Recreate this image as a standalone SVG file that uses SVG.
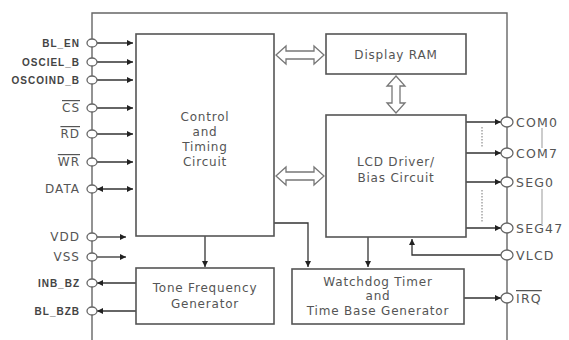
<svg xmlns="http://www.w3.org/2000/svg" width="569" height="340" viewBox="0 0 569 340">
<defs>
<marker id="ah" viewBox="0 0 10 10" refX="10" refY="5" markerWidth="7" markerHeight="6" orient="auto-start-reverse" markerUnits="userSpaceOnUse"><path d="M0,0 L10,5 L0,10 z" fill="#222"/></marker>
</defs>
<style>
.ln{stroke:#666;stroke-width:1.4;fill:none}
.th{stroke:#999;stroke-width:1;fill:none}
.dt{stroke:#777;stroke-width:1;fill:none;stroke-dasharray:1.5,1.5}
.ar{stroke:#333;stroke-width:1.3;fill:none;marker-end:url(#ah)}
.ar2{stroke:#333;stroke-width:1.3;fill:none;marker-end:url(#ah);marker-start:url(#ah)}
.box{fill:#fff;stroke:#555;stroke-width:1.6}
.pin{fill:#fff;stroke:#666;stroke-width:1.3}
.hol{fill:#fff;stroke:#777;stroke-width:1.3}
.t{font-family:"DejaVu Sans",Verdana,sans-serif;font-size:12px;letter-spacing:0.8px;fill:#555;text-anchor:middle}
.l{font-family:"DejaVu Sans",Verdana,sans-serif;font-size:12px;letter-spacing:1px;fill:#555;text-anchor:end}
.lb{font-family:"Liberation Sans",Arial,sans-serif;font-size:10px;font-weight:bold;letter-spacing:1px;fill:#444;text-anchor:end}
.r{font-family:"DejaVu Sans",Verdana,sans-serif;font-size:12.5px;letter-spacing:1.2px;fill:#555}
</style>
<g id="connectors">
<path class="ln" d="M92,340 V13 H507 V340"/>
<path class="ar" d="M97,43 H133"/>
<path class="ar" d="M97,62 H133"/>
<path class="ar" d="M97,80 H133"/>
<path class="ar" d="M97,108 H133"/>
<path class="ar" d="M97,134 H133"/>
<path class="ar" d="M97,162 H133"/>
<path class="ar2" d="M97,189 H133"/>
<path class="ar" d="M97,237 H126"/>
<path class="ar" d="M97,257 H126"/>
<path class="ar" d="M136,283 H97"/>
<path class="ar" d="M136,311 H97"/>
<path class="ar" d="M205,236 V267"/>
<path class="ar" d="M274,223 H308 V267"/>
<path class="ar" d="M368,237 V267"/>
<path class="ar" d="M501,255 H412 V239"/>
<path class="ar" d="M464,298 H501"/>
<path class="ar" d="M466,122 H501"/>
<path class="ar" d="M466,153 H501"/>
<path class="ar" d="M466,182 H501"/>
<path class="ar" d="M466,228 H501"/>
<path class="dt" d="M482,127 V147"/>
<path class="dt" d="M482,190 V222"/>
<path class="th" d="M542,128 V148"/>
<path class="th" d="M542,189 V224"/>
<polygon class="hol" points="276,55 286,46 286,51 314,51 314,46 324,55 314,64 314,59 286,59 286,64"/>
<polygon class="hol" points="276,176 286,167 286,172 314,172 314,167 324,176 314,185 314,180 286,180 286,185"/>
<polygon class="hol" points="396,76 405,86 400,86 400,103 405,103 396,113 387,103 392,103 392,86 387,86"/>
</g>
<g id="pins">
<ellipse class="pin" cx="92" cy="43" rx="5" ry="4"/>
<ellipse class="pin" cx="92" cy="62" rx="5" ry="4"/>
<ellipse class="pin" cx="92" cy="80" rx="5" ry="4"/>
<ellipse class="pin" cx="92" cy="108" rx="5" ry="4"/>
<ellipse class="pin" cx="92" cy="134" rx="5" ry="4"/>
<ellipse class="pin" cx="92" cy="162" rx="5" ry="4"/>
<ellipse class="pin" cx="92" cy="189" rx="5" ry="4"/>
<ellipse class="pin" cx="92" cy="237" rx="5" ry="4"/>
<ellipse class="pin" cx="92" cy="257" rx="5" ry="4"/>
<ellipse class="pin" cx="92" cy="283" rx="5" ry="4"/>
<ellipse class="pin" cx="92" cy="311" rx="5" ry="4"/>
<ellipse class="pin" cx="507" cy="122" rx="6" ry="5"/>
<ellipse class="pin" cx="507" cy="153" rx="6" ry="5"/>
<ellipse class="pin" cx="507" cy="182" rx="6" ry="5"/>
<ellipse class="pin" cx="507" cy="228" rx="6" ry="5"/>
<ellipse class="pin" cx="507" cy="255" rx="6" ry="5"/>
<ellipse class="pin" cx="507" cy="298" rx="6" ry="5"/>
</g>
<g id="pin-labels">
<text class="lb" x="80" y="47">BL_EN</text>
<text class="lb" x="80" y="66">OSCIEL_B</text>
<text class="lb" x="80" y="84">OSCOIND_B</text>
<text class="l" x="80" y="112" text-decoration="overline">CS</text>
<text class="l" x="80" y="138" text-decoration="overline">RD</text>
<text class="l" x="80" y="166" text-decoration="overline">WR</text>
<text class="l" x="80" y="193">DATA</text>
<text class="l" x="80" y="241">VDD</text>
<text class="l" x="80" y="261">VSS</text>
<text class="lb" x="80" y="287">INB_BZ</text>
<text class="lb" x="80" y="315">BL_BZB</text>
<text class="r" x="516" y="127">COM0</text>
<text class="r" x="516" y="158">COM7</text>
<text class="r" x="516" y="187">SEG0</text>
<text class="r" x="516" y="233">SEG47</text>
<text class="r" x="516" y="260">VLCD</text>
<text class="r" x="516" y="303" text-decoration="overline">IRQ</text>
</g>
<g id="control">
<rect class="box" x="136" y="34" width="138" height="202"/>
<text class="t" x="205" y="121">Control</text>
<text class="t" x="205" y="136">and</text>
<text class="t" x="205" y="151">Timing</text>
<text class="t" x="205" y="166">Circuit</text>
</g>
<g id="display-ram">
<rect class="box" x="326" y="34" width="140" height="40"/>
<text class="t" x="396" y="59">Display RAM</text>
</g>
<g id="lcd-driver">
<rect class="box" x="326" y="115" width="140" height="122"/>
<text class="t" x="396" y="166">LCD Driver/</text>
<text class="t" x="396" y="182">Bias Circuit</text>
</g>
<g id="tone">
<rect class="box" x="136" y="268" width="138" height="56"/>
<text class="t" x="205" y="292">Tone Frequency</text>
<text class="t" x="205" y="308">Generator</text>
</g>
<g id="watchdog">
<rect class="box" x="292" y="269" width="172" height="55"/>
<text class="t" x="378" y="286">Watchdog Timer</text>
<text class="t" x="378" y="300">and</text>
<text class="t" x="378" y="315">Time Base Generator</text>
</g>
</svg>
